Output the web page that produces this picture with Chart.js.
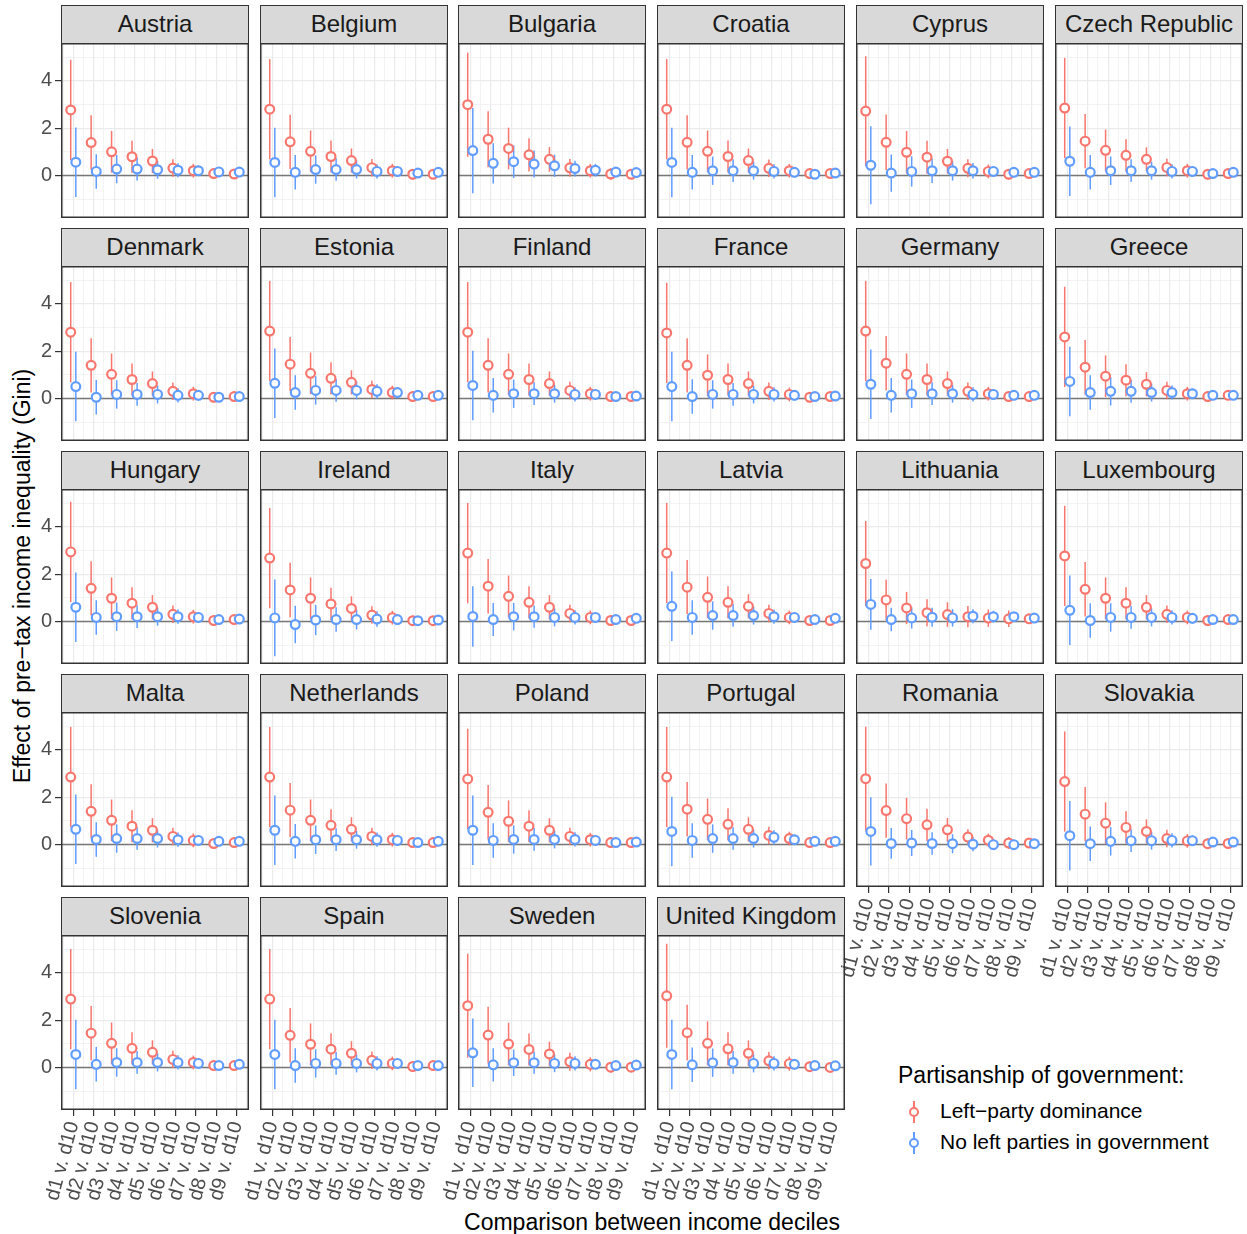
<!DOCTYPE html>
<html>
<head>
<meta charset="utf-8">
<script src="https://cdn.jsdelivr.net/npm/chart.js@4.4.1/dist/chart.umd.min.js"></script>
<style>
  body { margin: 0; background: #fff; font-family: "Liberation Sans", Arial, sans-serif; }
  #wrap { position: relative; width: 1247px; height: 1234px; overflow: hidden; }
  .strip { position: absolute; box-sizing: border-box; background: #D9D9D9; border: 1.5px solid #333;
           font-size: 24px; color: #1A1A1A; text-align: center; line-height: 35px; white-space: nowrap; }
  .panel { position: absolute; }
  .ytitle { position: absolute; left: 22px; top: 576px; transform: translate(-50%, -50%) rotate(-90deg);
            font-size: 23px; white-space: nowrap; color: #000; }
  .xtitle { position: absolute; left: 652px; top: 1222px; transform: translate(-50%, -50%);
            font-size: 23px; white-space: nowrap; color: #000; }
  .legend-title { position: absolute; left: 898px; top: 1062px; font-size: 23px; color: #000; white-space: nowrap; }
  .legend-item { position: absolute; left: 940px; font-size: 21px; color: #000; white-space: nowrap; }
  .glyph { position: absolute; width: 20px; height: 22px; }
  .glyph .bar { position: absolute; left: 9px; top: 0; width: 1.6px; height: 22px; }
  .glyph .dot { position: absolute; left: 5px; top: 6px; width: 6px; height: 6px; border-radius: 50%;
                border: 2px solid; background: #fff; }
</style>
</head>
<body>
<div id="wrap">
  <div class="ytitle">Effect of pre−tax income inequality (Gini)</div>
  <div class="xtitle">Comparison between income deciles</div>
  <div class="legend-title">Partisanship of government:</div>
  <div class="glyph" style="left:904px;top:1101px"><div class="bar" style="background:#F8766D"></div><div class="dot" style="border-color:#F8766D"></div></div>
  <div class="legend-item" style="top:1099px">Left−party dominance</div>
  <div class="glyph" style="left:904px;top:1132px"><div class="bar" style="background:#619CFF"></div><div class="dot" style="border-color:#619CFF"></div></div>
  <div class="legend-item" style="top:1130px">No left parties in government</div>
</div>
<script>
// Comparisons on the x axis
const comparisons = ['d1 v. d10', 'd2 v. d10', 'd3 v. d10', 'd4 v. d10', 'd5 v. d10',
                     'd6 v. d10', 'd7 v. d10', 'd8 v. d10', 'd9 v. d10'];

const countries = ['Austria', 'Belgium', 'Bulgaria', 'Croatia', 'Cyprus', 'Czech Republic',
                   'Denmark', 'Estonia', 'Finland', 'France', 'Germany', 'Greece',
                   'Hungary', 'Ireland', 'Italy', 'Latvia', 'Lithuania', 'Luxembourg',
                   'Malta', 'Netherlands', 'Poland', 'Portugal', 'Romania', 'Slovakia',
                   'Slovenia', 'Spain', 'Sweden', 'United Kingdom'];

const seriesNames = ['Left\u2212party dominance', 'No left parties in government'];
const yTickValues = [-1, 0, 1, 2, 3, 4, 5];
const yLabelValues = [0, 2, 4];

// Point estimates, one row per country (same order as countries)
const leftEstimate = [
  [2.77, 1.39, 1.00, 0.79, 0.61, 0.31, 0.20, 0.08, 0.06],
  [2.80, 1.42, 1.02, 0.80, 0.63, 0.33, 0.20, 0.05, 0.05],
  [2.99, 1.53, 1.14, 0.87, 0.68, 0.32, 0.20, 0.06, 0.05],
  [2.80, 1.40, 1.02, 0.80, 0.63, 0.30, 0.20, 0.08, 0.08],
  [2.72, 1.40, 0.98, 0.77, 0.60, 0.30, 0.17, 0.05, 0.08],
  [2.85, 1.45, 1.06, 0.85, 0.68, 0.34, 0.20, 0.05, 0.08],
  [2.80, 1.40, 1.02, 0.80, 0.63, 0.30, 0.20, 0.05, 0.08],
  [2.85, 1.45, 1.06, 0.85, 0.68, 0.38, 0.25, 0.08, 0.08],
  [2.80, 1.40, 1.02, 0.80, 0.63, 0.34, 0.20, 0.08, 0.08],
  [2.77, 1.40, 0.98, 0.80, 0.63, 0.30, 0.17, 0.05, 0.08],
  [2.85, 1.49, 1.02, 0.80, 0.63, 0.30, 0.20, 0.08, 0.08],
  [2.60, 1.32, 0.94, 0.77, 0.60, 0.34, 0.20, 0.08, 0.13],
  [2.94, 1.40, 0.98, 0.77, 0.60, 0.30, 0.20, 0.04, 0.08],
  [2.68, 1.33, 0.98, 0.74, 0.55, 0.27, 0.16, 0.03, 0.03],
  [2.89, 1.49, 1.06, 0.81, 0.60, 0.34, 0.17, 0.04, 0.04],
  [2.89, 1.45, 1.02, 0.81, 0.64, 0.34, 0.17, 0.04, 0.04],
  [2.45, 0.91, 0.57, 0.37, 0.29, 0.20, 0.14, 0.11, 0.11],
  [2.77, 1.36, 0.98, 0.77, 0.60, 0.30, 0.17, 0.04, 0.08],
  [2.85, 1.40, 1.02, 0.77, 0.60, 0.34, 0.17, 0.04, 0.08],
  [2.85, 1.45, 1.02, 0.81, 0.64, 0.34, 0.20, 0.08, 0.08],
  [2.77, 1.36, 0.98, 0.77, 0.60, 0.34, 0.20, 0.08, 0.08],
  [2.85, 1.49, 1.06, 0.85, 0.64, 0.38, 0.25, 0.08, 0.08],
  [2.78, 1.43, 1.09, 0.83, 0.62, 0.31, 0.18, 0.06, 0.06],
  [2.66, 1.28, 0.90, 0.72, 0.55, 0.25, 0.15, 0.03, 0.04],
  [2.89, 1.45, 1.02, 0.81, 0.64, 0.34, 0.21, 0.08, 0.08],
  [2.89, 1.36, 0.98, 0.77, 0.60, 0.30, 0.17, 0.04, 0.08],
  [2.61, 1.37, 0.99, 0.76, 0.57, 0.24, 0.13, 0.01, 0.01],
  [3.03, 1.47, 1.02, 0.79, 0.60, 0.28, 0.16, 0.03, 0.00]
];

const noLeftEstimate = [
  [0.56, 0.17, 0.27, 0.27, 0.24, 0.22, 0.20, 0.15, 0.14],
  [0.55, 0.13, 0.25, 0.25, 0.25, 0.17, 0.17, 0.10, 0.13],
  [1.05, 0.51, 0.58, 0.48, 0.41, 0.29, 0.22, 0.14, 0.12],
  [0.55, 0.13, 0.20, 0.20, 0.20, 0.17, 0.13, 0.05, 0.10],
  [0.43, 0.10, 0.17, 0.20, 0.20, 0.20, 0.17, 0.13, 0.13],
  [0.60, 0.13, 0.20, 0.20, 0.20, 0.17, 0.17, 0.08, 0.13],
  [0.50, 0.05, 0.17, 0.17, 0.17, 0.13, 0.13, 0.05, 0.08],
  [0.64, 0.25, 0.34, 0.34, 0.34, 0.30, 0.25, 0.13, 0.13],
  [0.55, 0.13, 0.20, 0.20, 0.20, 0.17, 0.17, 0.08, 0.10],
  [0.50, 0.08, 0.17, 0.17, 0.17, 0.17, 0.13, 0.08, 0.10],
  [0.60, 0.13, 0.20, 0.20, 0.20, 0.17, 0.17, 0.13, 0.13],
  [0.72, 0.25, 0.30, 0.30, 0.25, 0.25, 0.20, 0.13, 0.13],
  [0.60, 0.17, 0.20, 0.20, 0.20, 0.20, 0.17, 0.08, 0.10],
  [0.15, -0.13, 0.06, 0.08, 0.08, 0.10, 0.08, 0.03, 0.06],
  [0.21, 0.08, 0.20, 0.20, 0.17, 0.17, 0.17, 0.08, 0.13],
  [0.64, 0.17, 0.25, 0.25, 0.25, 0.20, 0.17, 0.08, 0.13],
  [0.72, 0.08, 0.15, 0.18, 0.15, 0.22, 0.20, 0.20, 0.14],
  [0.47, 0.04, 0.17, 0.17, 0.17, 0.17, 0.13, 0.08, 0.08],
  [0.64, 0.21, 0.25, 0.25, 0.25, 0.20, 0.17, 0.13, 0.13],
  [0.60, 0.13, 0.20, 0.20, 0.20, 0.20, 0.17, 0.08, 0.13],
  [0.60, 0.17, 0.21, 0.21, 0.21, 0.21, 0.17, 0.08, 0.10],
  [0.55, 0.17, 0.25, 0.25, 0.25, 0.30, 0.20, 0.13, 0.13],
  [0.55, 0.04, 0.06, 0.04, 0.03, 0.01, -0.01, -0.01, 0.03],
  [0.37, 0.03, 0.13, 0.16, 0.16, 0.17, 0.16, 0.10, 0.10],
  [0.55, 0.13, 0.21, 0.21, 0.21, 0.21, 0.17, 0.08, 0.13],
  [0.55, 0.08, 0.17, 0.17, 0.17, 0.17, 0.17, 0.08, 0.08],
  [0.62, 0.11, 0.20, 0.20, 0.17, 0.17, 0.13, 0.08, 0.10],
  [0.55, 0.11, 0.20, 0.21, 0.17, 0.17, 0.13, 0.08, 0.07]
];

// Half-widths of the confidence intervals
const ciLeftTypical = [2.12, 1.15, 0.88, 0.68, 0.51, 0.37, 0.29, 0.22, 0.11];
const ciNoLeftTypical = [1.47, 0.73, 0.60, 0.48, 0.38, 0.30, 0.22, 0.16, 0.10];
const ciLeftBulgaria = [2.20, 1.18, 0.88, 0.70, 0.52, 0.38, 0.29, 0.24, 0.12];
const ciNoLeftBulgaria = [1.80, 0.85, 0.69, 0.57, 0.47, 0.33, 0.27, 0.22, 0.10];
const ciLeftCyprus = [2.32, 1.18, 0.90, 0.70, 0.52, 0.38, 0.29, 0.22, 0.11];
const ciNoLeftCyprus = [1.65, 0.79, 0.64, 0.52, 0.42, 0.33, 0.22, 0.15, 0.10];
const ciNoLeftIreland = [1.62, 0.79, 0.64, 0.52, 0.42, 0.33, 0.22, 0.15, 0.10];
const ciNoLeftItaly = [1.28, 0.70, 0.58, 0.47, 0.38, 0.30, 0.22, 0.16, 0.10];
const ciLeftLithuania = [1.80, 0.85, 0.68, 0.57, 0.52, 0.45, 0.37, 0.35, 0.20];
const ciNoLeftLithuania = [1.07, 0.50, 0.45, 0.40, 0.37, 0.30, 0.25, 0.20, 0.12];
const ciLeftRomania = [2.20, 1.15, 0.88, 0.68, 0.50, 0.33, 0.28, 0.25, 0.10];
const ciNoLeftRomania = [1.44, 0.65, 0.55, 0.48, 0.40, 0.30, 0.22, 0.15, 0.08];
const ciLeftSweden = [2.20, 1.20, 0.90, 0.68, 0.52, 0.38, 0.30, 0.22, 0.10];
const ciNoLeftSweden = [1.45, 0.70, 0.56, 0.47, 0.37, 0.30, 0.20, 0.15, 0.08];
const ciLeftUK = [2.20, 1.18, 0.93, 0.70, 0.54, 0.37, 0.30, 0.22, 0.10];

const ciLeft = [ciLeftTypical, ciLeftTypical, ciLeftBulgaria, ciLeftTypical, ciLeftCyprus,
  ciLeftTypical, ciLeftTypical, ciLeftTypical, ciLeftTypical, ciLeftTypical, ciLeftTypical, ciLeftTypical,
  ciLeftTypical, ciLeftTypical, ciLeftTypical, ciLeftTypical, ciLeftLithuania, ciLeftTypical,
  ciLeftTypical, ciLeftTypical, ciLeftTypical, ciLeftTypical, ciLeftRomania, ciLeftTypical,
  ciLeftTypical, ciLeftTypical, ciLeftSweden, ciLeftUK];
const ciNoLeft = [ciNoLeftTypical, ciNoLeftTypical, ciNoLeftBulgaria, ciNoLeftTypical, ciNoLeftCyprus,
  ciNoLeftTypical, ciNoLeftTypical, ciNoLeftTypical, ciNoLeftTypical, ciNoLeftTypical, ciNoLeftTypical, ciNoLeftTypical,
  ciNoLeftTypical, ciNoLeftIreland, ciNoLeftItaly, ciNoLeftTypical, ciNoLeftLithuania, ciNoLeftTypical,
  ciNoLeftTypical, ciNoLeftTypical, ciNoLeftTypical, ciNoLeftTypical, ciNoLeftRomania, ciNoLeftTypical,
  ciNoLeftTypical, ciNoLeftTypical, ciNoLeftSweden, ciNoLeftTypical];

// Styling / layout
const RED = '#F8766D';
const BLUE = '#619CFF';
const FONT = '"Liberation Sans", Arial, sans-serif';
const colLefts = [61, 260, 458, 657, 856, 1055];
const panelW = 188;
const panelH = 175;
const stripH = 38;
const rowStep = 223;
const yAxisW = 61;
const labelRoom = 32;   // room on the left for the slanted x labels
const xAxisH = 124;
const dodge = 0.125;

// Draws the zero line, the interval bars and the panel frame
const panelDecor = {
  id: 'panelDecor',
  beforeDatasetsDraw(chart) {
    const { ctx, chartArea: a, scales: { x, y } } = chart;
    ctx.save();
    const y0 = y.getPixelForValue(0);
    ctx.strokeStyle = '#777';
    ctx.lineWidth = 1.6;
    ctx.beginPath();
    ctx.moveTo(a.left, y0);
    ctx.lineTo(a.right, y0);
    ctx.stroke();
    chart.data.datasets.forEach(ds => {
      ctx.strokeStyle = ds.borderColor;
      ctx.lineWidth = 1.5;
      ds.data.forEach((p, i) => {
        const px = x.getPixelForValue(p.x);
        ctx.beginPath();
        ctx.moveTo(px, y.getPixelForValue(ds.low[i]));
        ctx.lineTo(px, y.getPixelForValue(ds.high[i]));
        ctx.stroke();
      });
    });
    ctx.restore();
  },
  afterDraw(chart) {
    const { ctx, chartArea: a } = chart;
    ctx.save();
    ctx.strokeStyle = '#333';
    ctx.lineWidth = 1.5;
    ctx.strokeRect(a.left + 0.75, a.top + 0.75, a.right - a.left - 1.5, a.bottom - a.top - 1.5);
    ctx.restore();
  }
};

function makeDataset(name, est, ci, color, offset, order) {
  return {
    label: name,
    data: est.map((v, i) => ({ x: i + 1 + offset, y: v })),
    low: est.map((v, i) => v - ci[i]),
    high: est.map((v, i) => v + ci[i]),
    borderColor: color,
    backgroundColor: '#fff',
    pointRadius: 4.4,
    pointBorderWidth: 2.2,
    pointHoverRadius: 4.4,
    order: order
  };
}

const isMajor = v => Number.isInteger(v);

function noPadding(s) {
  s.paddingLeft = 0;
  s.paddingRight = 0;
  s.paddingTop = 0;
  s.paddingBottom = 0;
}

function renderPanel(idx) {
  const row = Math.floor(idx / 6);
  const col = idx % 6;
  const showY = col === 0;
  // the last panel of each column carries the x labels
  const showX = idx + 6 >= countries.length;
  const leftRoom = showY ? yAxisW : (showX ? labelRoom : 0);
  const plotTop = 43 + row * rowStep;
  const wrap = document.getElementById('wrap');

  const strip = document.createElement('div');
  strip.className = 'strip';
  strip.style.left = colLefts[col] + 'px';
  strip.style.top = (plotTop - stripH) + 'px';
  strip.style.width = panelW + 'px';
  strip.style.height = (stripH + 1) + 'px';
  strip.textContent = countries[idx];
  wrap.appendChild(strip);

  const box = document.createElement('div');
  box.className = 'panel';
  box.style.left = (colLefts[col] - leftRoom) + 'px';
  box.style.top = plotTop + 'px';
  box.style.width = (panelW + leftRoom) + 'px';
  box.style.height = (panelH + (showX ? xAxisH : 0)) + 'px';
  const canvas = document.createElement('canvas');
  box.appendChild(canvas);
  wrap.appendChild(box);

  new Chart(canvas, {
    type: 'scatter',
    data: {
      datasets: [
        makeDataset(seriesNames[0], leftEstimate[idx], ciLeft[idx], RED, -dodge, 1),
        makeDataset(seriesNames[1], noLeftEstimate[idx], ciNoLeft[idx], BLUE, dodge, 0)
      ]
    },
    options: {
      responsive: true,
      maintainAspectRatio: false,
      animation: false,
      events: [],
      layout: { padding: 0, autoPadding: false },
      plugins: { legend: { display: false }, tooltip: { enabled: false } },
      scales: {
        x: {
          type: 'linear',
          min: 0.4,
          max: 9.6,
          afterBuildTicks: s => { s.ticks = [0.5, 1, 1.5, 2, 2.5, 3, 3.5, 4, 4.5, 5, 5.5, 6, 6.5, 7, 7.5, 8, 8.5, 9, 9.5].map(v => ({ value: v })); },
          afterFit: s => { s.height = showX ? xAxisH : 0; noPadding(s); },
          border: { display: false },
          grid: {
            color: '#EBEBEB',
            lineWidth: c => isMajor(c.tick.value) ? 1.2 : 0.6,
            drawTicks: showX,
            tickLength: 6,
            tickColor: c => isMajor(c.tick.value) ? '#333' : 'rgba(0,0,0,0)',
            tickWidth: 1.2
          },
          ticks: {
            display: showX,
            autoSkip: false,
            minRotation: 75,
            maxRotation: 75,
            padding: 3,
            color: '#4D4D4D',
            font: { size: 20, family: FONT },
            callback: v => isMajor(v) ? comparisons[v - 1] : ''
          }
        },
        y: {
          min: -1.8,
          max: 5.6,
          afterBuildTicks: s => { s.ticks = yTickValues.map(v => ({ value: v })); },
          afterFit: s => { s.width = leftRoom; noPadding(s); },
          border: { display: false },
          grid: {
            color: '#EBEBEB',
            lineWidth: c => c.tick.value % 2 === 0 ? 1.2 : 0.6,
            drawTicks: showY,
            tickLength: 6,
            tickColor: c => yLabelValues.includes(c.tick.value) ? '#333' : 'rgba(0,0,0,0)',
            tickWidth: 1.2
          },
          ticks: {
            display: showY,
            autoSkip: false,
            padding: 3,
            color: '#4D4D4D',
            font: { size: 20, family: FONT },
            callback: v => yLabelValues.includes(v) ? String(v) : ''
          }
        }
      }
    },
    plugins: [panelDecor]
  });
}

countries.forEach((c, i) => renderPanel(i));
</script>
</body>
</html>
